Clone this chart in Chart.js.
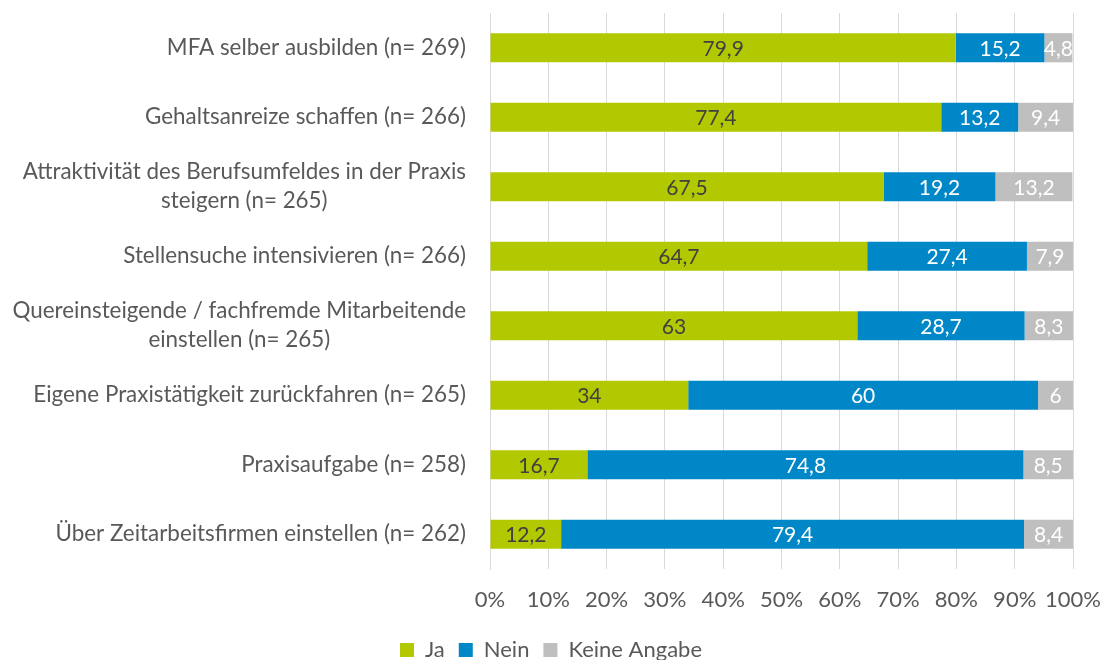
<!DOCTYPE html>
<html lang="de">
<head>
  <meta charset="UTF-8">
  <title>Maßnahmen gegen MFA-Mangel</title>
  <script src="https://cdn.jsdelivr.net/npm/chart.js"></script>
  <style>
    html, body { margin: 0; padding: 0; background: #fff; }
    #wrap { width: 1102px; height: 660px; }
  </style>
</head>
<body>
  <div id="wrap"><canvas id="chart"></canvas></div>

  <script>
    const categories = [
      ["MFA selber ausbilden (n= 269)"],
      ["Gehaltsanreize schaffen (n= 266)"],
      ["Attraktivität des Berufsumfeldes in der Praxis", "steigern (n= 265)"],
      ["Stellensuche intensivieren (n= 266)"],
      ["Quereinsteigende / fachfremde Mitarbeitende", "einstellen (n= 265)"],
      ["Eigene Praxistätigkeit zurückfahren (n= 265)"],
      ["Praxisaufgabe (n= 258)"],
      ["Über Zeitarbeitsfirmen einstellen (n= 262)"]
    ];
    const ja     = [79.9, 77.4, 67.5, 64.7, 63, 34, 16.7, 12.2];
    const nein   = [15.2, 13.2, 19.2, 27.4, 28.7, 60, 74.8, 79.4];
    const keine  = [4.8, 9.4, 13.2, 7.9, 8.3, 6, 8.5, 8.4];
    const xTicks = [0, 10, 20, 30, 40, 50, 60, 70, 80, 90, 100];

    const FONT = "Lato, 'Open Sans', sans-serif";
    const TEXT = "#595959";

    // values in the middle of each segment
    const valueLabels = {
      id: "valueLabels",
      afterDatasetsDraw(chart) {
        const ctx = chart.ctx;
        ctx.save();
        ctx.font = "21px " + FONT;
        ctx.textAlign = "center";
        ctx.textBaseline = "middle";
        chart.data.datasets.forEach((ds, i) => {
          chart.getDatasetMeta(i).data.forEach((bar, j) => {
            const v = ds.data[j];
            ctx.fillStyle = ds.labelColor;
            ctx.fillText(String(v).replace(".", ","), (bar.x + bar.base) / 2, bar.y + 1);
          });
        });
        ctx.restore();
      }
    };

    // category labels: each block right aligned, lines centred within the block
    const catLabels = {
      id: "catLabels",
      afterDraw(chart) {
        const ctx = chart.ctx;
        const y = chart.scales.y;
        ctx.save();
        ctx.font = "22.4px " + FONT;
        ctx.fillStyle = TEXT;
        ctx.textAlign = "center";
        ctx.textBaseline = "middle";
        const right = chart.chartArea.left - 24;
        const lh = 29;
        categories.forEach((lines, i) => {
          const w = Math.max(...lines.map(l => ctx.measureText(l).width));
          const cy = y.getPixelForTick(i);
          const top = cy - (lines.length - 1) * lh / 2;
          lines.forEach((l, k) => ctx.fillText(l, right - w / 2, top + k * lh));
        });
        ctx.restore();
      }
    };

    new Chart(document.getElementById("chart"), {
      type: "bar",
      data: {
        labels: categories,
        datasets: [
          { label: "Ja", data: ja, backgroundColor: "#B2C800", labelColor: "#404040" },
          { label: "Nein", data: nein, backgroundColor: "#0087C8", labelColor: "#ffffff" },
          { label: "Keine Angabe", data: keine, backgroundColor: "#BFBFBF", labelColor: "#ffffff" }
        ]
      },
      plugins: [valueLabels, catLabels],
      options: {
        indexAxis: "y",
        responsive: true,
        maintainAspectRatio: false,
        animation: false,
        barPercentage: 0.84,
        categoryPercentage: 0.5,
        layout: { padding: { top: 13, right: 0, left: 0, bottom: -11 } },
        plugins: {
          legend: {
            position: "bottom",
            labels: {
              font: { size: 22, family: FONT },
              color: TEXT,
              boxWidth: 14,
              boxHeight: 14,
              padding: 14
            }
          },
          tooltip: { enabled: false }
        },
        scales: {
          x: {
            stacked: true,
            min: 0,
            max: 100,
            afterBuildTicks: s => { s.ticks = xTicks.map(v => ({ value: v })); },
            afterFit: s => { s.height = 56; s.paddingRight = 29; },
            ticks: {
              callback: v => v + "%",
              font: { size: 22, family: FONT },
              color: TEXT,
              padding: 18,
              maxRotation: 0
            },
            grid: { color: "#D9D9D9", drawTicks: false },
            border: { display: false }
          },
          y: {
            stacked: true,
            afterFit: s => { s.width = 490; },
            ticks: { display: false },
            grid: { display: false },
            border: { color: "#D9D9D9" }
          }
        }
      }
    });
  </script>
</body>
</html>
